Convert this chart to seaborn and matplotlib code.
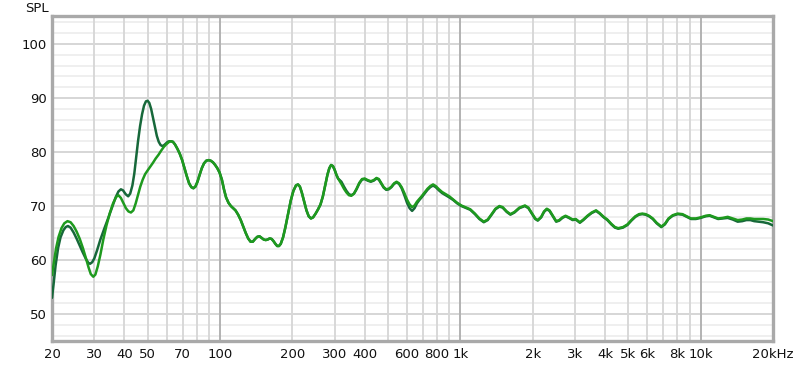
import numpy as np
import pandas as pd
import matplotlib
matplotlib.use("Agg")
import matplotlib.pyplot as plt
import seaborn as sns
from matplotlib.ticker import FixedLocator, NullFormatter

# ---------------- data ----------------
dark_low_freq = [20, 20.3, 20.7, 21.2, 21.7, 22.3, 22.8, 23.3, 23.9, 24.6, 25.3, 26.0, 26.8,
                 27.6, 28.3, 28.8, 29.4, 30.0, 30.8, 31.8, 33.0, 34.3, 35.6, 36.8, 37.8, 38.7,
                 39.5, 40.5, 41.5, 42.3, 43.2, 44.0, 44.8, 45.6, 46.5, 47.4, 48.3, 49.2, 50.0,
                 50.8, 51.7, 52.6, 53.6, 54.6, 55.6, 56.6, 57.6, 58.6, 59.6, 60.6, 61.5]
dark_low_spl = [53.0, 55.5, 59.0, 62.2, 64.2, 65.5, 66.1, 66.3, 66.0, 65.1, 64.0, 62.8, 61.5,
                60.3, 59.5, 59.3, 59.6, 60.3, 61.8, 63.8, 65.8, 67.8, 69.8, 71.6, 72.7, 73.1,
                72.9, 72.2, 71.8, 72.3, 73.8, 76.0, 79.0, 82.0, 84.8, 87.0, 88.6, 89.4, 89.5,
                89.1, 88.0, 86.4, 84.6, 83.0, 81.9, 81.3, 81.1, 81.3, 81.6, 81.9, 82.0]

light_low_freq = [20, 20.4, 20.8, 21.3, 21.9, 22.5, 23.2, 23.9, 24.6, 25.3, 26.1, 26.9, 27.7,
                  28.4, 29.0, 29.7, 30.3, 31.0, 31.8, 32.7, 33.7, 34.8, 35.9, 37.0, 37.8, 38.7,
                  39.6, 40.6, 41.6, 42.6, 43.6, 44.6, 45.6, 46.6, 47.7, 48.8, 50.0, 51.3, 52.6,
                  54.0, 55.5, 57.0, 58.5, 60.0, 61.5]
light_low_spl = [57.2, 59.8, 62.2, 64.3, 65.9, 66.8, 67.2, 67.0, 66.3, 65.3, 63.9, 62.2, 60.3,
                 58.6, 57.4, 56.9, 57.3, 58.8, 61.0, 63.8, 66.4, 68.7, 70.5, 71.7, 72.0, 71.5,
                 70.6, 69.6, 69.0, 68.8, 69.2, 70.5, 72.1, 73.6, 74.9, 75.9, 76.6, 77.3, 78.0,
                 78.8, 79.5, 80.3, 81.0, 81.5, 81.9]

common_freq = [62.5, 63.7, 65.0, 66.5, 68.0, 69.6, 71.2, 72.8, 74.4, 76.0, 77.5, 79.0, 80.6,
               82.3, 84.0, 85.8, 87.7, 89.6, 91.5, 93.5, 95.5, 97.5, 99.6, 101.8, 104, 106,
               108.5, 111, 113.5, 116, 119, 122, 125, 128, 131, 134, 137, 140, 143, 146, 149,
               152, 155, 158, 161, 164, 167, 170, 173, 176, 179, 183, 187, 192, 197, 202, 207,
               211, 215, 219, 224, 229, 234, 239, 244, 250, 256, 262, 268, 274, 280, 285, 290,
               295, 300, 305, 310]
common_spl = [82.0, 81.9, 81.4, 80.6, 79.7, 78.5, 77.0, 75.5, 74.2, 73.5, 73.3, 73.6, 74.5,
              75.8, 77.0, 77.9, 78.4, 78.5, 78.4, 78.1, 77.6, 77.0, 76.2, 74.9, 73.0, 71.6,
              70.6, 70.0, 69.6, 69.2, 68.4, 67.4, 66.2, 65.0, 64.0, 63.4, 63.4, 63.9, 64.3,
              64.4, 64.1, 63.8, 63.7, 63.8, 64.0, 63.9, 63.5, 63.0, 62.6, 62.6, 63.0, 64.2,
              66.0, 68.5, 71.0, 72.8, 73.8, 74.0, 73.6, 72.5, 70.8, 69.2, 68.1, 67.7, 67.9,
              68.6, 69.4, 70.3, 71.8, 73.8, 75.8, 77.0, 77.6, 77.4, 76.7, 75.8, 75.1]

hi_freq = [320, 328, 336, 344, 352, 361, 370, 380, 390, 400, 412, 424, 436, 448, 458, 468, 480,
           492, 504, 517, 530, 543, 556, 570, 585, 600, 615, 630, 645, 660, 675, 690, 710, 730,
           750, 770, 790, 815, 840, 870, 900, 935, 970, 1010, 1059, 1100, 1150, 1200, 1252,
           1300, 1350, 1400, 1454, 1500, 1560, 1616, 1680, 1760, 1857, 1920, 1990, 2050, 2100,
           2170, 2230, 2290, 2350, 2420, 2506, 2580, 2660, 2740, 2830, 2934, 3020, 3080, 3144,
           3250, 3380, 3520, 3670, 3800, 3950, 4090, 4250, 4400, 4540, 4750, 4960, 5150, 5350,
           5540, 5720, 5900, 6100, 6320, 6560, 6860, 7100, 7350, 7650, 8020, 8400, 8750, 9120,
           9550, 10000, 10500, 10900, 11350, 11820, 12350, 12960, 13600, 14260, 14900, 15500,
           16100, 16700, 17400, 18200, 19100, 20000]
dark_hi_spl = [74.5, 73.6, 72.8, 72.2, 72.0, 72.3, 73.1, 74.2, 74.9, 75.0, 74.7, 74.5, 74.7,
               75.1, 74.9, 74.2, 73.4, 73.0, 73.1, 73.5, 74.1, 74.4, 74.1, 73.3, 72.0, 70.6,
               69.6, 69.1, 69.6, 70.5, 71.1, 71.6, 72.3, 73.0, 73.5, 73.8, 73.5, 72.9, 72.4,
               72.0, 71.6, 71.1, 70.5, 70.0, 69.6, 69.3, 68.5, 67.6, 67.0, 67.4, 68.4, 69.4,
               69.9, 69.7, 68.9, 68.4, 68.8, 69.6, 70.0, 69.6, 68.5, 67.6, 67.3, 67.9, 68.9,
               69.4, 69.1, 68.2, 67.1, 67.3, 67.8, 68.1, 67.8, 67.4, 67.5, 67.2, 66.9, 67.4,
               68.1, 68.7, 69.1, 68.6, 67.9, 67.4, 66.6, 66.0, 65.8, 66.0, 66.5, 67.3, 68.0,
               68.4, 68.5, 68.4, 68.1, 67.6, 66.8, 66.1, 66.6, 67.6, 68.2, 68.5, 68.4, 68.0,
               67.6, 67.6, 67.8, 68.1, 68.2, 67.9, 67.6, 67.7, 67.8, 67.5, 67.1, 67.2, 67.4,
               67.4, 67.2, 67.1, 67.0, 66.8, 66.4]
light_hi_spl = [74.1, 73.2, 72.5, 72.0, 71.9, 72.3, 73.2, 74.3, 75.0, 75.1, 74.8, 74.6, 74.8,
                75.2, 75.0, 74.3, 73.5, 73.1, 73.2, 73.6, 74.2, 74.5, 74.2, 73.5, 72.4, 71.2,
                70.3, 69.8, 70.1, 70.8, 71.3, 71.8, 72.5, 73.2, 73.7, 74.0, 73.7, 73.1, 72.6,
                72.2, 71.8, 71.2, 70.6, 70.1, 69.7, 69.4, 68.6, 67.7, 67.1, 67.5, 68.5, 69.5,
                70.0, 69.8, 69.0, 68.5, 68.9, 69.7, 70.1, 69.7, 68.6, 67.7, 67.4, 68.0, 69.0,
                69.5, 69.2, 68.3, 67.2, 67.4, 67.9, 68.2, 67.9, 67.5, 67.6, 67.3, 67.0, 67.5,
                68.2, 68.8, 69.2, 68.7, 68.0, 67.5, 66.7, 66.1, 65.9, 66.1, 66.6, 67.4, 68.1,
                68.5, 68.6, 68.5, 68.2, 67.7, 66.9, 66.2, 66.7, 67.7, 68.3, 68.6, 68.5, 68.1,
                67.7, 67.7, 67.9, 68.2, 68.3, 68.0, 67.7, 67.8, 68.0, 67.7, 67.4, 67.5, 67.7,
                67.7, 67.6, 67.6, 67.6, 67.5, 67.2]

xtick_vals = [20, 30, 40, 50, 70, 100, 200, 300, 400, 600, 800, 1000, 2000, 3000, 4000, 5000,
              6000, 8000, 10000, 20000]
xtick_labels = ["20", "30", "40", "50", "70", "100", "200", "300", "400", "600", "800", "1k",
                "2k", "3k", "4k", "5k", "6k", "8k", "10k", "20kHz"]
ytick_vals = [50, 60, 70, 80, 90, 100]

# ---------------- build frames ----------------
dark = pd.DataFrame({"freq": dark_low_freq + common_freq + hi_freq,
                     "spl": dark_low_spl + common_spl + dark_hi_spl})
light = pd.DataFrame({"freq": light_low_freq + common_freq + hi_freq,
                      "spl": light_low_spl + common_spl + light_hi_spl})

sns.set_style("white")
plt.rcParams["font.family"] = ["DejaVu Sans"]

fig = plt.figure(figsize=(8.0, 3.65), dpi=100)
ax = fig.add_axes([52 / 800, 24 / 365, 721 / 800, 325 / 365])
ax.set_xscale("log")
ax.set_xlim(20, 20000)
ax.set_ylim(45.0, 105.2)

# grid
for v in np.arange(46, 105, 2):
    if v % 10 != 0:
        ax.axhline(v, color="#ebebeb", lw=1.1, zorder=0)
for v in ytick_vals:
    ax.axhline(v, color="#d6d6d6", lw=1.4, zorder=0)
grid_x = [20, 30, 40, 50, 60, 70, 80, 90, 200, 300, 400, 500, 600, 700, 800, 900,
          2000, 3000, 4000, 5000, 6000, 7000, 8000, 9000]
for v in grid_x:
    ax.axvline(v, color="#d8d8d8", lw=1.4, zorder=0)
for v in [100, 1000, 10000]:
    ax.axvline(v, color="#b2b2b2", lw=1.4, zorder=0)

line_kw = dict(sort=False, estimator=None, solid_joinstyle="round", solid_capstyle="round")
sns.lineplot(data=dark, x="freq", y="spl", ax=ax, color="#17683a", lw=1.8, zorder=3, **line_kw)
sns.lineplot(data=light, x="freq", y="spl", ax=ax, color="#1e9a1e", lw=1.8, zorder=4, **line_kw)

ax.xaxis.set_major_locator(FixedLocator(xtick_vals))
ax.set_xticklabels(xtick_labels)
ax.xaxis.set_minor_formatter(NullFormatter())
ax.xaxis.set_minor_locator(FixedLocator([]))
ax.set_yticks(ytick_vals)
ax.set_yticklabels([str(v) for v in ytick_vals])
ax.tick_params(axis="both", length=0, labelsize=9.5, colors="#111111")
ax.tick_params(axis="x", pad=5)
ax.tick_params(axis="y", pad=4)
ax.set_xlabel("")
ax.set_ylabel("")

for s in ax.spines.values():
    s.set_color("#a9a9a9")
    s.set_linewidth(2.4)

fig.text(37 / 800, 1 - 8 / 365, "SPL", ha="center", va="center", fontsize=9.5, color="#111111")

fig.savefig("out.png", dpi=100, facecolor="white")
